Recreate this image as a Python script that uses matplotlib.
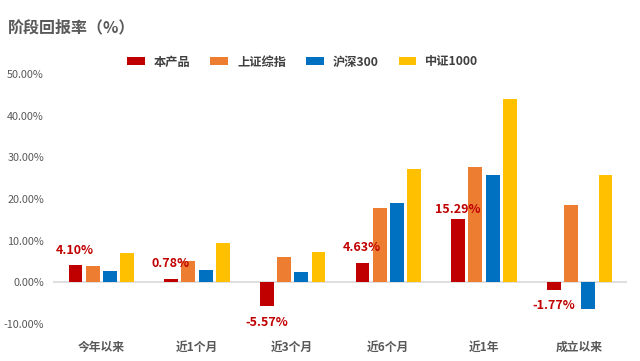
import matplotlib
matplotlib.use('Agg')
import matplotlib.pyplot as plt
import numpy as np

plt.rcParams['font.family'] = ['Noto Sans CJK SC', 'DejaVu Sans']

# -[Dati]------------------------------------------------------------------------
categorie = ["今年以来", "近1个月", "近3个月", "近6个月", "近1年", "成立以来"]
serie = ["本产品", "上证综指", "沪深300", "中证1000"]
prodotto = [4.10, 0.78, -5.57, 4.63, 15.29, -1.77]
szzz     = [3.9, 5.1, 6.05, 17.9, 27.8, 18.6]
hs300    = [2.65, 2.9, 2.4, 19.1, 25.7, -6.45]
zz1000   = [7.0, 9.45, 7.25, 27.1, 44.1, 25.7]
yticks = [-10, 0, 10, 20, 30, 40, 50]

colori = ["#C00000", "#ED7D31", "#0070C0", "#FFC000"]
grigio = "#595959"

# -[Figura]----------------------------------------------------------------------
fig = plt.figure(figsize=(6.4, 3.61), dpi=100)
ax = fig.add_axes([53/640, 37/361, 574/640, 250/361])

x = np.arange(len(categorie))
w = 0.145
step = 0.18
dati = [prodotto, szzz, hs300, zz1000]
for j, (vals, col, nome) in enumerate(zip(dati, colori, serie)):
    ax.bar(x + (j - 1.5)*step + 0.005, vals, width=w, color=col, label=nome, zorder=3)

# etichette sul prodotto
offs = [15, 16, -17, 16, 9, -16]
for xi, v, o in zip(x, prodotto, offs):
    ax.annotate(f"{v:.2f}%", (xi - 1.5*step, v), xytext=(0, o*0.72),
                textcoords="offset points", ha="center", va="center",
                color="#C00000", fontsize=9, fontweight="bold")

ax.set_xlim(-0.5, len(categorie) - 0.5)
ax.set_ylim(-10, 50)
ax.axhline(0, color="#D9D9D9", lw=1.2, zorder=2)
ax.set_yticks(yticks)
ax.set_yticklabels([f"{t:.2f}%" for t in yticks], fontsize=7.8, color=grigio)
ax.set_xticks(x)
ax.set_xticklabels(categorie, fontsize=8.5, color=grigio, fontweight="bold")
ax.tick_params(axis="both", length=0)
ax.tick_params(axis="x", pad=12)
ax.tick_params(axis="y", pad=6.5)
for s in ax.spines.values():
    s.set_visible(False)

fig.text(8/640, 1 - 27/361, "阶段回报率（%）", fontsize=11.5, fontweight="bold",
         color=grigio, ha="left", va="center")

fig.legend(loc="center", bbox_to_anchor=(0.473, 1 - 62/361), ncol=4, frameon=False,
           prop={"size": 8.8, "weight": "bold"}, handlelength=1.45, handleheight=0.55,
           handletextpad=0.72, columnspacing=1.65, labelcolor="#404040")

fig.savefig("out.png", dpi=100)
